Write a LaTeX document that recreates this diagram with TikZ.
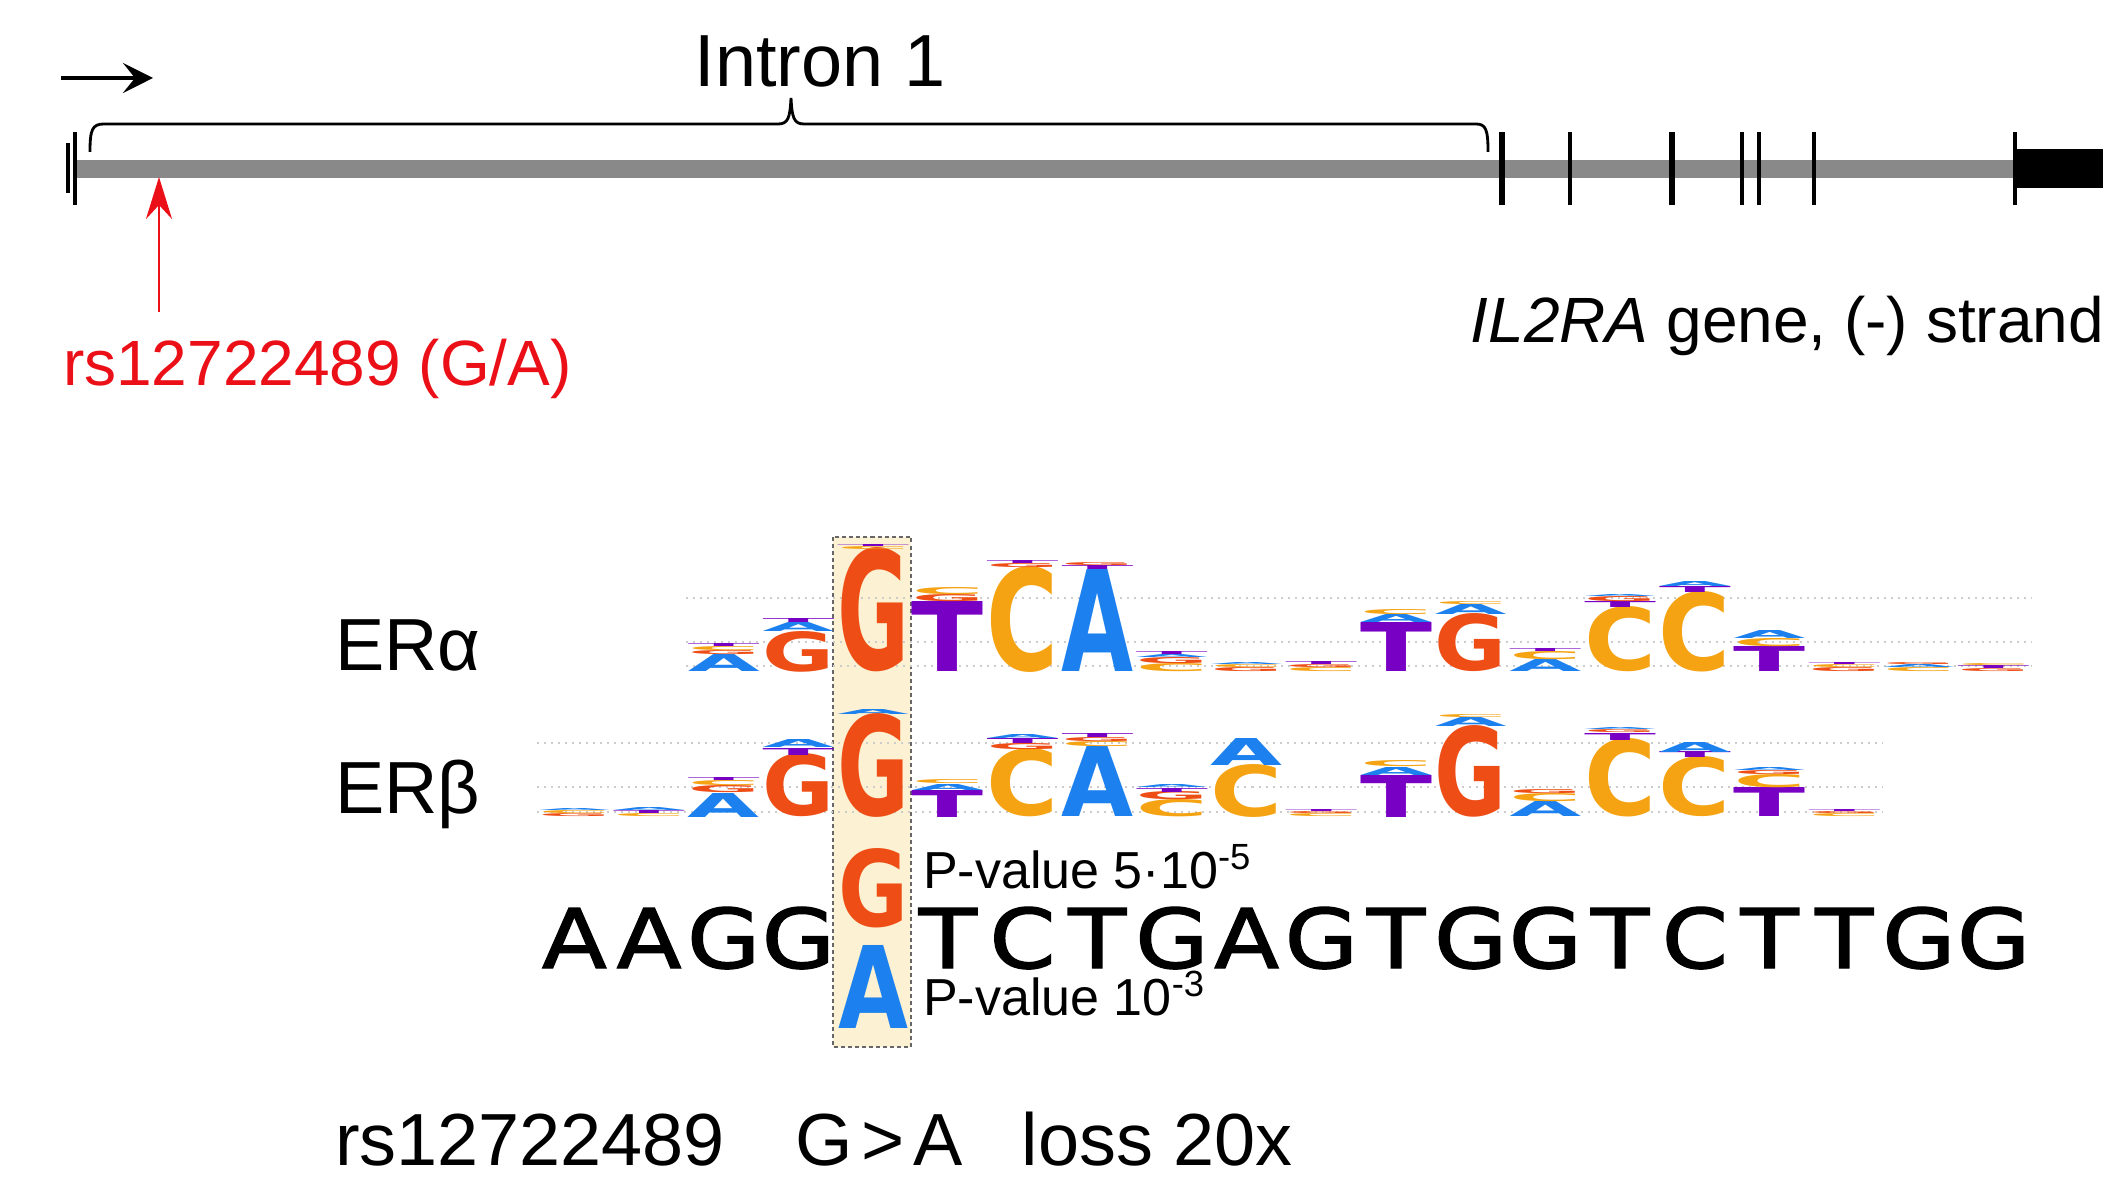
\documentclass[tikz,border=0pt]{standalone}
\usepackage{fontspec}
\setmainfont{Liberation Sans}
\newfontfamily\seqfont[FakeBold=1.6]{DejaVu Sans}
\newfontfamily\logofont{DejaVu Sans}
\usepackage{tikz}
\usetikzlibrary{arrows.meta}
\definecolor{logoA}{RGB}{28,128,238}
\definecolor{logoC}{RGB}{245,163,18}
\definecolor{logoG}{RGB}{238,78,22}
\definecolor{logoT}{RGB}{120,0,196}
\definecolor{barcol}{RGB}{137,137,137}
\definecolor{hlfill}{RGB}{252,241,210}
\definecolor{snpred}{RGB}{235,16,24}
\newlength{\pxu}
\setlength{\pxu}{0.01cm}
\newcommand{\logoltr}[3]{\resizebox{#2\pxu}{#3\pxu}{\logofont\bfseries #1}}

\begin{document}
\begin{tikzpicture}[
			x=0.01cm, y=-0.01cm,
			every node/.style={inner sep=0pt, outer sep=0pt},
			txt/.style={font=\fontsize{18.2}{20}\selectfont},
			big/.style={font=\fontsize{21}{24}\selectfont},
			pval/.style={font=\fontsize{14.8}{16}\selectfont, anchor=base west},
			ltr/.style={anchor=south},
			seqltr/.style={anchor=base, font=\seqfont\fontsize{23.4}{24}\selectfont},
			dotline/.style={gray!40, line width=0.6pt, dash pattern=on 0.02cm off 0.05cm},
			hlbox/.style={fill=hlfill, draw=black!60, line width=0.45pt, dash pattern=on 0.04cm off 0.03cm},
			>={Stealth[length=0.3cm,width=0.3cm,inset=0.12cm]}
			]
			\useasboundingbox[fill=white] (0,0) rectangle (2116,1204);
			
			% gene model
			\fill[barcol] (74,160) rectangle (2015,178);
			\draw[line width=0.9pt] (68,143) -- (68,193);
			\draw[line width=1.1pt] (75,132) -- (75,205);
			\foreach \x/\w in {1502/1.7, 1570/0.9, 1672/1.7, 1742/0.9, 1759/0.9, 1814/0.9, 2015/0.9}
				\draw[line width=\w pt] (\x,132) -- (\x,205);
			\fill (2015,149) rectangle (2103,188);
			\draw[line width=0.8pt] (90,152) .. controls (90,130) and (92,124) .. (104,124) -- (778,124)
				.. controls (788,124) and (790,118) .. (791,98) .. controls (792,118) and (794,124) .. (804,124)
				-- (1476,124) .. controls (1486,124) and (1488,130) .. (1488,152);
			\node[big, anchor=base] (intron) at (820,87) {Intron 1};
			\coordinate (tss) at (61,78);
			\coordinate (tssend) at (153,78);
			\draw[->, line width=1.2pt] (tss) -- (tssend);
			\coordinate (snptail) at (159,312);
			\coordinate (snptip) at (159,177);
			\draw[-{Stealth[length=0.42cm,width=0.26cm,inset=0.14cm]}, snpred, line width=0.7pt] (snptail) -- (snptip);
			\node[txt, text=snpred, anchor=base west] (snp) at (63,386) {rs12722489 (G/A)};
			\node[txt, anchor=base east] (gene) at (2104,343) {\textit{IL2RA} gene, (-) strand};
			
			% motif logos
			\draw[hlbox] (833,537) rectangle (911,1047);
			\foreach \y in {598,642,666}
				\draw[dotline] (686,\y) -- (2031,\y);
			\foreach \y in {743,787,812}
				\draw[dotline] (537,\y) -- (1882,\y);
			\foreach \g/\b/\l/\h [count=\n] in {2/672/A/17, 2/655/G/4, 2/651/C/4, 2/647/T/3,
				3/672/G/40, 3/632/A/9, 3/623/T/4, 4/672/G/122, 4/550/C/3, 4/547/T/2,
				5/672/T/70, 5/602/G/7, 5/595/C/7, 6/672/C/104, 6/568/G/4, 6/564/T/3,
				7/672/A/102, 7/570/T/4, 7/566/G/3, 8/672/C/8, 8/664/G/6, 8/658/A/3, 8/655/T/3,
				9/672/G/4, 9/668/C/3, 9/665/A/2, 10/672/C/4, 10/668/G/3, 10/665/T/3,
				11/672/T/49, 11/623/A/8, 11/615/C/5, 12/672/G/57, 12/615/A/10, 12/605/C/3,
				13/672/A/12, 13/660/C/8, 13/652/T/3, 14/672/C/64, 14/608/T/6, 14/602/G/5, 14/597/A/2,
				15/672/C/79, 15/593/T/6, 15/587/A/5, 16/672/T/25, 16/647/C/8, 16/639/A/8,
				17/672/G/4, 17/668/C/3, 17/665/T/2, 18/672/C/4, 18/668/A/3, 18/665/G/2,
				19/672/G/3, 19/669/T/3, 19/666/C/2}
				\node[ltr, text=logo\l] (ea\n) at ({574.35+74.7*\g},\b) {\logoltr{\l}{72}{\h}};
			\foreach \g/\b/\l/\h [count=\n] in {0/817/G/3, 0/814/C/3, 0/811/A/2,
				1/817/C/3, 1/814/T/3, 1/811/A/3, 2/817/A/24, 2/793/G/7, 2/786/C/5, 2/781/T/3,
				3/817/G/62, 3/755/T/7, 3/748/A/8, 4/817/G/102, 4/715/A/5,
				5/817/T/27, 5/790/A/6, 5/784/C/4, 6/817/C/67, 6/750/G/6, 6/744/T/5, 6/739/A/4,
				7/817/A/70, 7/747/C/5, 7/742/G/4, 7/738/T/4, 8/817/C/17, 8/800/G/8, 8/792/T/4, 8/788/A/3,
				9/817/C/52, 9/765/A/27, 10/817/C/3, 10/814/G/2, 10/812/T/2,
				11/817/T/42, 11/775/A/8, 11/767/C/6, 12/817/G/90, 12/727/A/9, 12/718/C/3,
				13/817/A/15, 13/802/C/8, 13/794/G/4, 14/817/C/77, 14/740/T/7, 14/733/G/3, 14/730/A/2,
				15/817/C/59, 15/758/T/6, 15/752/A/10, 16/817/T/29, 16/788/C/13, 16/775/G/4, 16/771/A/3,
				17/817/C/3, 17/814/G/2, 17/812/T/2}
				\node[ltr, text=logo\l] (eb\n) at ({574.35+74.7*\g},\b) {\logoltr{\l}{72}{\h}};
			\node[big, anchor=base west] (era) at (335,671) {ERα};
			\node[big, anchor=base west] (erb) at (335,814) {ERβ};
			
			% sequence with the variant
			\foreach \l [count=\g from 0] in {A,A,G,G}
				\node[seqltr] (sa\g) at ({574.35+74.7*\g},968) {\scalebox{1.15}[1]{\l}};
			\foreach \l [count=\g from 5] in {T,C,T,G,A,G,T,G,G,T,C,T,T,G,G}
				\node[seqltr] (sb\g) at ({574.35+74.7*\g},968) {\scalebox{1.15}[1]{\l}};
			\node[ltr, text=logoG] (varG) at (873,928) {\logoltr{G}{70}{78}};
			\node[ltr, text=logoA] (varA) at (873,1028) {\logoltr{A}{70}{83}};
			\node[pval] (pvG) at (923,888) {P-value 5·10\textsuperscript{-5}};
			\node[pval] (pvA) at (923,1015) {P-value 10\textsuperscript{-3}};
			
			\node[big, anchor=base west] (loss) at (335,1165) {rs12722489\hspace{0.95em}G\hspace{0.12em}>\hspace{0.12em}A\hspace{0.8em}loss 20x};
		\end{tikzpicture}
\end{document}
